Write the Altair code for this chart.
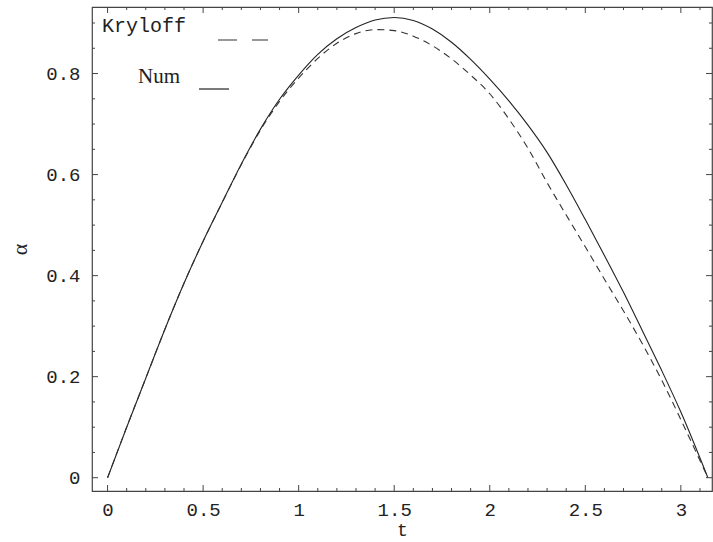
import altair as alt
import pandas as pd

# ---- data ----
t_num = [0, 0.1, 0.2, 0.3, 0.4, 0.5, 0.6, 0.7, 0.8, 0.9, 1.0, 1.1, 1.2, 1.3, 1.4, 1.5,
         1.6, 1.7, 1.8, 1.9, 2.0, 2.1, 2.2, 2.3, 2.4, 2.5, 2.6, 2.7, 2.8, 2.9, 3.0, 3.1416]
a_num = [0, 0.100, 0.197, 0.294, 0.385, 0.468, 0.545, 0.621, 0.690, 0.749, 0.797, 0.838,
         0.869, 0.891, 0.906, 0.911, 0.905, 0.888, 0.862, 0.828, 0.789, 0.746, 0.698, 0.644,
         0.580, 0.511, 0.440, 0.367, 0.290, 0.212, 0.130, 0.0]

t_kry = [0, 0.1, 0.2, 0.3, 0.4, 0.5, 0.6, 0.7, 0.8, 0.9, 1.0, 1.1, 1.2, 1.3, 1.4, 1.5,
         1.6, 1.7, 1.8, 1.9, 2.0, 2.1, 2.2, 2.3, 2.4, 2.5, 2.6, 2.7, 2.8, 2.9, 3.0, 3.1416]
a_kry = [0, 0.100, 0.197, 0.294, 0.385, 0.468, 0.545, 0.620, 0.688, 0.745, 0.791, 0.830,
         0.860, 0.879, 0.887, 0.885, 0.874, 0.855, 0.829, 0.797, 0.760, 0.710, 0.652, 0.584,
         0.520, 0.457, 0.393, 0.330, 0.264, 0.193, 0.115, 0.0]

x_major = [0, 0.5, 1, 1.5, 2, 2.5, 3]
x_minor = [0.1, 0.2, 0.3, 0.4, 0.6, 0.7, 0.8, 0.9, 1.1, 1.2, 1.3, 1.4, 1.6, 1.7, 1.8, 1.9,
           2.1, 2.2, 2.3, 2.4, 2.6, 2.7, 2.8, 2.9, 3.1]
y_major = [0, 0.2, 0.4, 0.6, 0.8]
y_minor = [0.05, 0.1, 0.15, 0.25, 0.3, 0.35, 0.45, 0.5, 0.55, 0.65, 0.7, 0.75, 0.85, 0.9]

legend_labels = ["Kryloff", "Num"]

W, H = 620, 484
XDOM = [-0.0815, 3.163]
YDOM = [-0.0263, 0.9317]
MONO = "Liberation Mono"
INK = "#222222"

xs = alt.Scale(domain=XDOM, nice=False, zero=False)
ys = alt.Scale(domain=YDOM, nice=False, zero=False)

df_num = pd.DataFrame({"t": t_num, "a": a_num})
df_kry = pd.DataFrame({"t": t_kry, "a": a_kry})

x_axis = alt.Axis(values=x_major, format="~g", ticks=False, domain=False, grid=False,
                  labelFont=MONO, labelFontSize=19, labelColor=INK, labelPadding=9,
                  title="t", titleFont=MONO, titleFontSize=18, titleFontWeight="normal",
                  titleColor=INK, titlePadding=2)
y_axis = alt.Axis(values=y_major, format="~g", ticks=False, domain=False, grid=False,
                  labelFont=MONO, labelFontSize=19, labelColor=INK, labelPadding=12,
                  title="α", titleFont="Liberation Serif", titleFontSize=22,
                  titleFontWeight="normal", titleColor=INK, titlePadding=14)


def X(field):
    return alt.X(field, scale=xs, axis=x_axis)


def Y(field):
    return alt.Y(field, scale=ys, axis=y_axis)


num_line = alt.Chart(df_num).mark_line(color=INK, strokeWidth=1.1, interpolate="monotone").encode(
    x=X("t:Q"), y=Y("a:Q"))
kry_line = alt.Chart(df_kry).mark_line(color="#333333", strokeWidth=1.1, strokeDash=[7, 5],
                                       interpolate="monotone").encode(
    x=X("t:Q"), y=Y("a:Q"))

layers = [num_line, kry_line]

TICK_COLOR = "#444444"


def xticks(vals, length):
    d = pd.DataFrame({"t": vals})
    bot = alt.Chart(d).mark_rule(color=TICK_COLOR, strokeWidth=1).encode(
        x=X("t:Q"), y=alt.value(H), y2=alt.value(H - length))
    top = alt.Chart(d).mark_rule(color=TICK_COLOR, strokeWidth=1).encode(
        x=X("t:Q"), y=alt.value(0), y2=alt.value(length))
    return [bot, top]


def yticks(vals, length):
    d = pd.DataFrame({"a": vals})
    left = alt.Chart(d).mark_rule(color=TICK_COLOR, strokeWidth=1).encode(
        y=Y("a:Q"), x=alt.value(0), x2=alt.value(length))
    right = alt.Chart(d).mark_rule(color=TICK_COLOR, strokeWidth=1).encode(
        y=Y("a:Q"), x=alt.value(W), x2=alt.value(W - length))
    return [left, right]


layers += xticks(x_major, 6) + xticks(x_minor, 3)
layers += yticks(y_major, 6) + yticks(y_minor, 3)

# legend (drawn inside the frame, as in the reference)
leg = pd.DataFrame({"label": legend_labels})
kry_text = alt.Chart(leg.iloc[[0]]).mark_text(
    font=MONO, fontSize=20, color=INK, align="left", baseline="middle").encode(
    text="label:N", x=alt.value(10), y=alt.value(19))
num_text = alt.Chart(leg.iloc[[1]]).mark_text(
    font="Liberation Serif", fontSize=21, color=INK, align="left", baseline="middle").encode(
    text="label:N", x=alt.value(46), y=alt.value(70))
kry_key = alt.Chart(leg.iloc[[0]]).mark_rule(color="#333333", strokeWidth=1.2,
                                             strokeDash=[19, 15]).encode(
    x=alt.value(126), x2=alt.value(176), y=alt.value(33))
num_key = alt.Chart(leg.iloc[[1]]).mark_rule(color=INK, strokeWidth=1.2).encode(
    x=alt.value(107), x2=alt.value(137), y=alt.value(82))
layers += [kry_text, num_text, kry_key, num_key]

chart = alt.layer(*layers).properties(
    width=W, height=H,
    autosize=alt.AutoSizeParams(type="none"),
    padding={"left": 92, "top": 7, "right": 1, "bottom": 51},
    background="white",
).configure_view(stroke="#444444", strokeWidth=1.2)

chart.save("out.html", embed_options={"renderer": "svg", "actions": False})
